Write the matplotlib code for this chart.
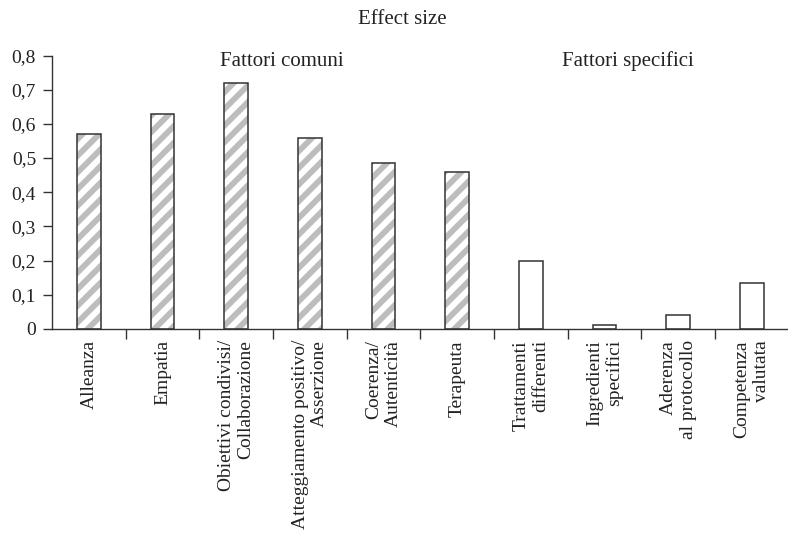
import numpy as np
import matplotlib
matplotlib.use("Agg")
import matplotlib.pyplot as plt

plt.rcParams['font.family'] = ['Liberation Serif', 'DejaVu Serif']
plt.rcParams['hatch.linewidth'] = 4.2

# Effect size per factor
labels = ['Alleanza', 'Empatia', 'Obiettivi condivisi/\nCollaborazione',
          'Atteggiamento positivo/\nAsserzione', 'Coerenza/\nAutenticità',
          'Terapeuta', 'Trattamenti\ndifferenti', 'Ingredienti\nspecifici',
          'Aderenza\nal protocollo', 'Competenza\nvalutata']
common_values = [0.57, 0.63, 0.72, 0.56, 0.485, 0.46]
specific_values = [0.20, 0.01, 0.04, 0.135]
yticks = [0, 0.1, 0.2, 0.3, 0.4, 0.5, 0.6, 0.7, 0.8]
ytick_labels = ['0', '0,1', '0,2', '0,3', '0,4', '0,5', '0,6', '0,7', '0,8']

dark = '#333333'
txt = '#222222'
x_common = np.arange(len(common_values))
x_specific = np.arange(len(specific_values)) + len(common_values)
width = 0.32

fig = plt.figure(figsize=(7.88, 5.5), dpi=100)
ax = fig.add_axes([0.066, 0.402, 0.935, 0.497])

# hatched common factors: fill + hatch first, then outline
ax.bar(x_common, common_values, width, color='white', edgecolor='#bdbdbd',
       hatch='//', linewidth=0)
ax.bar(x_common, common_values, width, fill=False, edgecolor=dark, linewidth=1.1)
ax.bar(x_specific, specific_values, width, color='white', edgecolor=dark, linewidth=1.1)

ax.set_xlim(-0.5, len(labels) - 0.5)
ax.set_ylim(0, 0.8)
ax.set_yticks(yticks)
ax.set_yticklabels(ytick_labels, fontsize=14)

ax.set_xticks(np.arange(len(labels)))
ax.set_xticklabels(labels, rotation=90, fontsize=14, va='top', ha='center',
                   multialignment='right', linespacing=1.2)
ax.set_xticks(np.arange(len(labels) - 1) + 0.5, minor=True)
ax.tick_params(axis='x', which='major', length=0, pad=8)
ax.tick_params(axis='x', which='minor', length=7, width=1, color=dark, direction='out')
ax.tick_params(axis='y', length=6.5, width=1, color=dark, pad=5, labelcolor=txt)
ax.tick_params(axis='x', labelcolor=txt)

for s in ['top', 'right']:
    ax.spines[s].set_visible(False)
for s in ['left', 'bottom']:
    ax.spines[s].set_color(dark)
    ax.spines[s].set_linewidth(1)

fig.text(402 / 788, 1 - 19 / 550, 'Effect size', ha='center', va='center',
         fontsize=15, color=txt)
fig.text(282 / 788, 1 - 61 / 550, 'Fattori comuni', ha='center', va='center',
         fontsize=15, color=txt)
fig.text(628 / 788, 1 - 61 / 550, 'Fattori specifici', ha='center', va='center',
         fontsize=15, color=txt)

fig.savefig('out.png', dpi=100)
